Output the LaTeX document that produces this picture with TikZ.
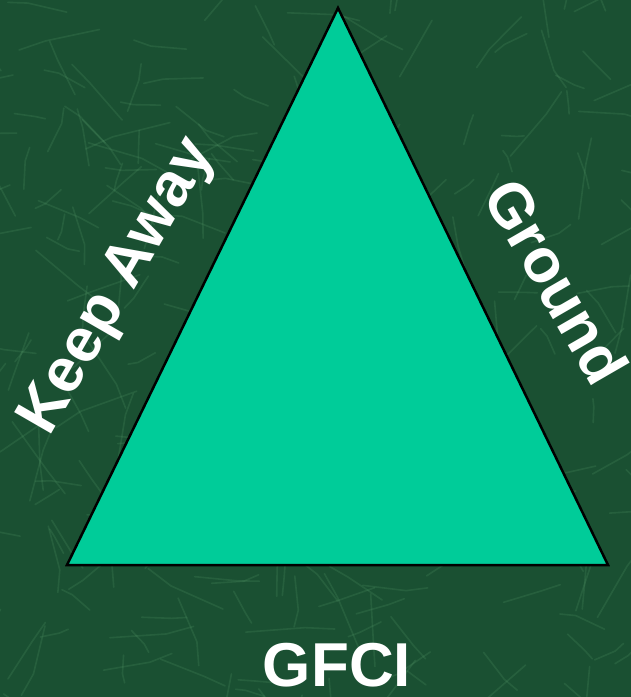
\documentclass[tikz,border=0pt]{standalone}
\usepackage{fontspec}
\setmainfont{Liberation Sans}
\definecolor{marble}{RGB}{26,80,50}
\definecolor{vein}{RGB}{95,165,115}
\definecolor{tri}{RGB}{0,204,153}

\begin{document}
\begin{tikzpicture}[x=1pt,y=-1pt]
\useasboundingbox (0,0) rectangle (631,697);
\fill[marble] (0,0) rectangle (631,697);
% faint marble veins
\begin{scope}
\clip (0,0) rectangle (631,697);
\pgfmathsetseed{11}
\foreach \i in {1,...,260}{
    \pgfmathsetmacro\px{rnd*631}
    \pgfmathsetmacro\py{rnd*697}
    \pgfmathsetmacro\an{rnd*360}
    \pgfmathsetmacro\ln{15+rnd*45}
    \draw[vein,opacity=0.18,line width=1.6,line cap=round] (\px,\py) -- ++(\an:\ln)
        -- ++(\an+40*rnd-20:\ln/2);
}
\end{scope}
\draw[fill=tri,line width=2.5] (338,8) coordinate (top) -- (67,565) coordinate (bl)
    -- (608,565) coordinate (br) -- cycle;
\foreach \x/\y/\r/\t/\n in {119/287/60/Keep Away/keep,
                            557/281/-60/Ground/ground,
                            337/665/0/GFCI/gfci}
    \node[text=white,font=\fontsize{62}{62}\selectfont\bfseries,rotate=\r] (\n)
        at (\x, \y) {\t};
\end{tikzpicture}
\end{document}
